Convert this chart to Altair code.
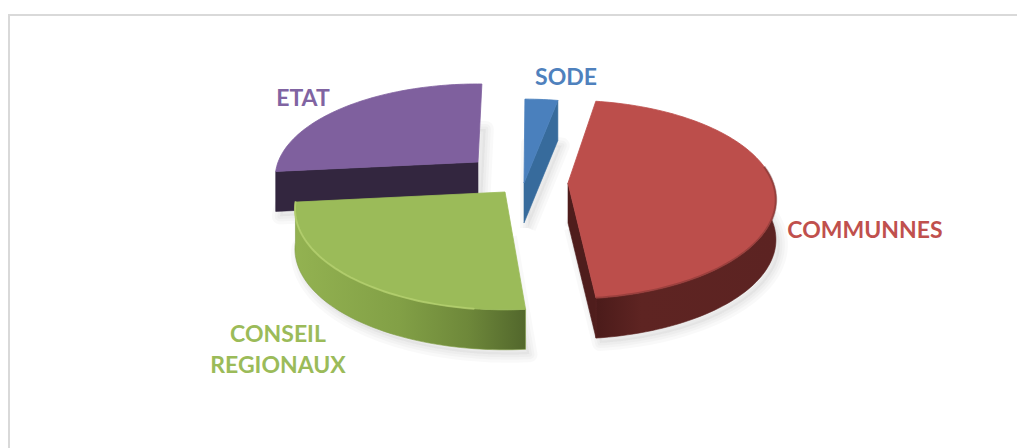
import math
import altair as alt
import pandas as pd

# --- chart values (percent of the pie, clockwise from 12 o'clock)
categories = ["SODE", "COMMUNNES", "CONSEIL REGIONAUX", "ETAT"]
shares = [3.0, 45.6, 24.7, 26.7]
top_colors = ["#4a80bd", "#bc4e4b", "#9bbb59", "#7f609e"]
label_colors = ["#4f81bd", "#c0504d", "#9bbb59", "#8064a2"]
label_lines = [["SODE"], ["COMMUNNES"], ["CONSEIL", "REGIONAUX"], ["ETAT"]]

# --- view of the 3-D pie
W, H = 1009, 440
START_DEG = 0.3
RX, RY, PERSP, DEPTH = 205.0, 98.0, 0.168, 40.0
apex = {"SODE": (524, 183), "COMMUNNES": (568, 183),
        "CONSEIL REGIONAUX": (505, 192), "ETAT": (478, 162)}
radius_scale = {"SODE": (1.0, 1.0), "COMMUNNES": (1.0, 0.985),
                "CONSEIL REGIONAUX": (1.01, 1.0), "ETAT": (0.975, 0.93)}
angle_trim = {"COMMUNNES": (-2.0, -1.8), "ETAT": (0.0, 1.0)}
label_pos = {"SODE": [(566, 78)], "COMMUNNES": [(865, 231)],
             "CONSEIL REGIONAUX": [(278, 335), (278, 366)], "ETAT": [(303, 99)]}
side_fill = {
    "SODE": "#376b9c", "COMMUNNES": "#5a2321",
    "CONSEIL REGIONAUX": "#7f9c45", "ETAT": "#33263f",
}

x_scale = alt.Scale(domain=[8, 8 + W], range=[0, W], nice=False, zero=False)
y_scale = alt.Scale(domain=[8 + H, 8], range=[H, 0], nice=False, zero=False)
X = alt.X("x:Q", scale=x_scale, axis=None)
Y = alt.Y("y:Q", scale=y_scale, axis=None)


def rim(name, deg):
    t = math.radians(deg)
    w = 1 + PERSP * math.cos(t)
    ax, ay = apex[name]
    rx, ry = radius_scale[name]
    return ax + rx * RX * math.sin(t) / w, ay - ry * RY * math.cos(t) / w


def arc(name, a0, a1):
    n = max(2, int(abs(a1 - a0) / 1.5))
    return [rim(name, a0 + (a1 - a0) * i / n) for i in range(n + 1)]


def down(pts, d=DEPTH):
    return [(px, py + d) for px, py in pts]


def ribbon(pts):
    return pts + down(pts)[::-1]


def shape(pts, closed=True, **mark):
    pts = pts + [pts[0]] if closed else pts
    df = pd.DataFrame({"x": [p[0] for p in pts], "y": [p[1] for p in pts],
                       "i": list(range(len(pts)))})
    return alt.Chart(df).mark_line(**mark).encode(x=X, y=Y, order="i:Q")


def hgrad(stops):
    return alt.Gradient(gradient="linear", x1=0, x2=1, y1=0, y2=0,
                        stops=[alt.GradientStop(offset=o, color=c) for o, c in stops])


angles, acc = {}, START_DEG
for name, s in zip(categories, shares):
    d0, d1 = angle_trim.get(name, (0.0, 0.0))
    angles[name] = (acc + d0, acc + s * 3.6 + d1)
    acc += s * 3.6

layers = []

# frame
layers.append(alt.Chart(pd.DataFrame({"x": [9], "y": [15], "y2": [448]})).mark_rule(
    color="#d9d9d9", strokeWidth=2).encode(x=X, y=Y, y2="y2:Q"))
layers.append(alt.Chart(pd.DataFrame({"x": [8], "x2": [1017], "y": [15]})).mark_rule(
    color="#d9d9d9", strokeWidth=2).encode(x=X, x2="x2:Q", y=Y))

# soft shadows under every piece
for name in ["ETAT", "CONSEIL REGIONAUX", "SODE", "COMMUNNES"]:
    a0, a1 = angles[name]
    ax, ay = apex[name]
    base = [(px + 4, py + DEPTH + 5) for px, py in [(ax, ay)] + arc(name, a0, a1)]
    for sw in (16, 10, 5):
        layers.append(shape(base, fill="#000000", fillOpacity=0.012, stroke="#000000",
                            strokeOpacity=0.022, strokeWidth=sw, strokeJoin="round"))

# pieces, back to front
for name in ["ETAT", "CONSEIL REGIONAUX", "SODE", "COMMUNNES"]:
    a0, a1 = angles[name]
    c = (float(apex[name][0]), float(apex[name][1]))
    outer = arc(name, a0, a1)
    side = side_fill[name]
    stroke = dict(stroke=side, strokeWidth=0.6)
    if name == "ETAT":
        layers.append(shape(ribbon([outer[0], c]), fill=side, **stroke))
    elif name == "SODE":
        layers.append(shape(ribbon([outer[-1], c]), fill=side, **stroke))
    elif name == "COMMUNNES":
        layers.append(shape(ribbon([c, outer[-1]]), fill="#4f1d1c", stroke="#4f1d1c", strokeWidth=0.6))
        front = arc(name, 80, a1)
        layers.append(shape(ribbon(front),
                            fill=hgrad([(0, "#4b1b1a"), (0.25, "#5e2422"), (1, "#5c2322")]),
                            stroke="#5a2321", strokeWidth=0.6))
    else:
        front = arc(name, a0, a1)
        layers.append(shape(ribbon(front),
                            fill=hgrad([(0, "#93b251"), (0.45, "#82a046"), (0.75, "#6e883a"), (1, "#52672c")]),
                            stroke="#7f9c45", strokeWidth=0.6))
    layers.append(shape([c] + outer, fill=top_colors[categories.index(name)],
                        stroke=top_colors[categories.index(name)], strokeWidth=0.8))

# rim bevels
green = angles["CONSEIL REGIONAUX"]
layers.append(shape(arc("CONSEIL REGIONAUX", green[0] + 12, green[1]), closed=False, stroke="#b9d474",
                    strokeWidth=2, strokeOpacity=0.7, strokeCap="round"))
red = angles["COMMUNNES"]
layers.append(shape(arc("COMMUNNES", 80, red[1]), closed=False, stroke="#6b2a28", strokeWidth=2.5,
                    strokeOpacity=0.4))

# labels
rows = []
for name, lines, colour in zip(categories, label_lines, label_colors):
    for line, (lx, ly) in zip(lines, label_pos[name]):
        rows.append({"x": lx, "y": ly, "t": line, "c": colour})
layers.append(alt.Chart(pd.DataFrame(rows)).mark_text(
    font="Lato", fontSize=23, fontWeight="bold", align="center", baseline="middle"
).encode(x=X, y=Y, text="t:N", color=alt.Color("c:N", scale=None, legend=None)))

chart = alt.layer(*layers).properties(
    width=W, height=H, padding=0, autosize=alt.AutoSizeParams(type="none")
).configure_view(stroke=None)

chart.save("out.html", embed_options={"renderer": "svg", "actions": False})
